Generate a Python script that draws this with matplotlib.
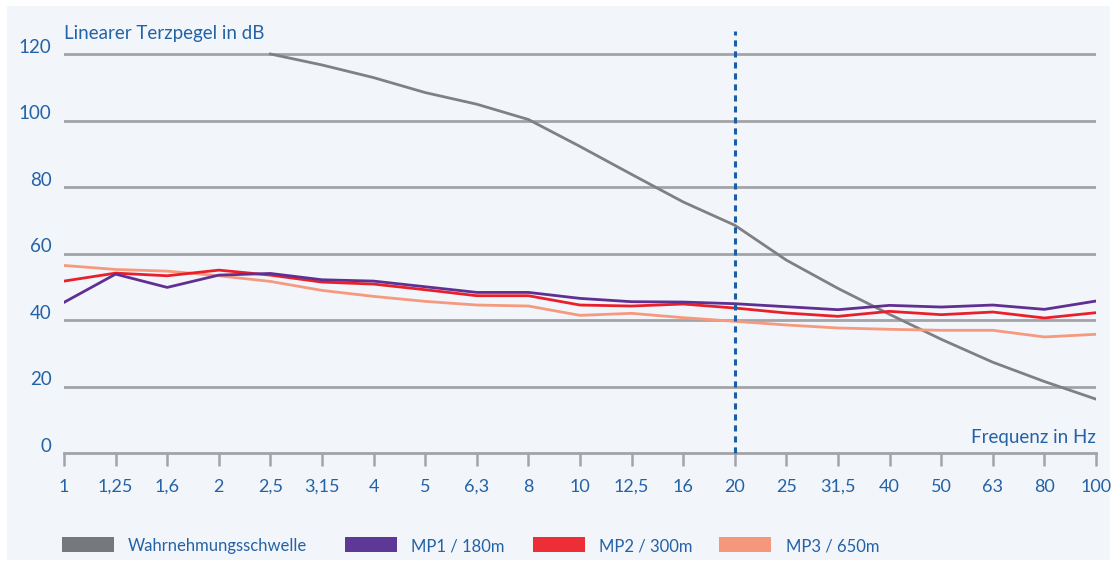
import matplotlib
import numpy as np

matplotlib.use("Agg")
import matplotlib.pyplot as plt
from matplotlib.patches import Rectangle
from matplotlib.transforms import offset_copy


# Terzband-Mittenfrequenzen (Hz)
freq_labels = ["1", "1,25", "1,6", "2", "2,5", "3,15", "4", "5", "6,3", "8", "10",
               "12,5", "16", "20", "25", "31,5", "40", "50", "63", "80", "100"]

# Wahrnehmungsschwelle ab 2,5 Hz
threshold_labels = ["2,5", "3,15", "4", "5", "6,3", "8", "10", "12,5", "16", "20",
                    "25", "31,5", "40", "50", "63", "80", "100"]
threshold = [120, 116.7, 112.9, 108.4, 104.9, 100.3, 92.2, 83.8, 75.5, 68.5,
             58.0, 49.5, 41.7, 34.2, 27.3, 21.5, 16.2]

mp1 = [45.3, 53.8, 49.8, 53.5, 54.0, 52.1, 51.7, 50.0, 48.3, 48.3, 46.5,
       45.5, 45.4, 44.9, 44.0, 43.1, 44.4, 43.9, 44.5, 43.2, 45.7]
mp2 = [51.7, 54.1, 53.3, 55.0, 53.5, 51.4, 50.8, 49.1, 47.3, 47.3, 44.5,
       44.2, 44.8, 43.6, 42.1, 41.1, 42.6, 41.6, 42.4, 40.6, 42.2]
mp3 = [56.4, 55.2, 54.7, 53.3, 51.6, 48.9, 47.1, 45.6, 44.5, 44.2, 41.4,
       42.0, 40.7, 39.6, 38.5, 37.6, 37.2, 36.9, 36.9, 34.9, 35.7]

series_names = ["Wahrnehmungsschwelle", "MP1 / 180m", "MP2 / 300m", "MP3 / 650m"]
line_colors = ["#808083", "#5f2f92", "#e9202b", "#f59a7e"]
legend_colors = ["#76787b", "#5e3896", "#ee2e36", "#f4977a"]

y_ticks = [0, 20, 40, 60, 80, 100, 120]
marker_freq = "20"

TEXT_BLUE = "#2462a6"
GRID_GRAY = "#a3a4a8"
BG = "#f2f5fa"

plt.rcParams["font.family"] = ["Lato", "DejaVu Sans"]

W, H = 1117, 566
fig = plt.figure(figsize=(W / 100, H / 100), dpi=100, facecolor="white")
fig.patches.append(Rectangle((7 / W, 6 / H), (1110 - 7) / W, (560 - 6) / H,
                             transform=fig.transFigure, facecolor=BG,
                             edgecolor="none", zorder=-10))

# axes: x index 0..20 from px 64 to 1096, y 0 at px 453, 3.325 px per dB
ytop = 127
ax = fig.add_axes([64 / W, (H - 453) / H, (1096 - 64) / W, ytop * 3.325 / H])
ax.set_facecolor("none")
ax.set_xlim(0, len(freq_labels) - 1)
ax.set_ylim(0, ytop)

x = np.arange(len(freq_labels))
xt = [freq_labels.index(f) for f in threshold_labels]

for yv in y_ticks[1:]:
    ax.axhline(yv, color=GRID_GRAY, lw=2, zorder=1)

ax.plot(xt, threshold, color=line_colors[0], lw=2.0, zorder=3)
ax.plot(x, mp3, color=line_colors[3], lw=2.0, zorder=4)
ax.plot(x, mp2, color=line_colors[2], lw=2.0, zorder=5)
ax.plot(x, mp1, color=line_colors[1], lw=2.0, zorder=6)

xm = freq_labels.index(marker_freq)
ax.plot([xm, xm], [0, ytop], color="#1a5ea8", lw=2.2, ls=(0, (2.0, 1.6)),
        zorder=7, clip_on=False)

for s in ["top", "right", "left"]:
    ax.spines[s].set_visible(False)
ax.spines["bottom"].set_color(GRID_GRAY)
ax.spines["bottom"].set_linewidth(2)

ax.set_xticks(x)
ax.set_xticklabels(freq_labels)
ax.tick_params(axis="x", direction="out", length=9, width=1.8, color=GRID_GRAY,
               labelcolor=TEXT_BLUE, labelsize=13, pad=9.5)
ax.set_yticks([])

ylab_tr = offset_copy(ax.transData, fig=fig, x=-9, y=5, units="points")
for yv in y_ticks:
    ax.text(0, yv, str(yv), transform=ylab_tr, ha="right", va="center",
            color=TEXT_BLUE, fontsize=13.5)

fig.text(64 / W, 1 - 33 / H, "Linearer Terzpegel in dB", ha="left", va="center",
         color=TEXT_BLUE, fontsize=13.5)
fig.text(1096 / W, 1 - 438 / H, "Frequenz in Hz", ha="right", va="center",
         color=TEXT_BLUE, fontsize=13.5)

# legend
rect_x = [62, 345, 533, 719]
text_x = [128, 411, 599, 786]
for name, col, rx, tx in zip(series_names, legend_colors, rect_x, text_x):
    fig.patches.append(Rectangle((rx / W, 1 - 552 / H), 52 / W, 15 / H,
                                 transform=fig.transFigure, facecolor=col,
                                 edgecolor="none", zorder=2))
    fig.text(tx / W, 1 - 546 / H, name, ha="left", va="center",
             color=TEXT_BLUE, fontsize=12)

fig.savefig("out.png", dpi=100, facecolor="white")
